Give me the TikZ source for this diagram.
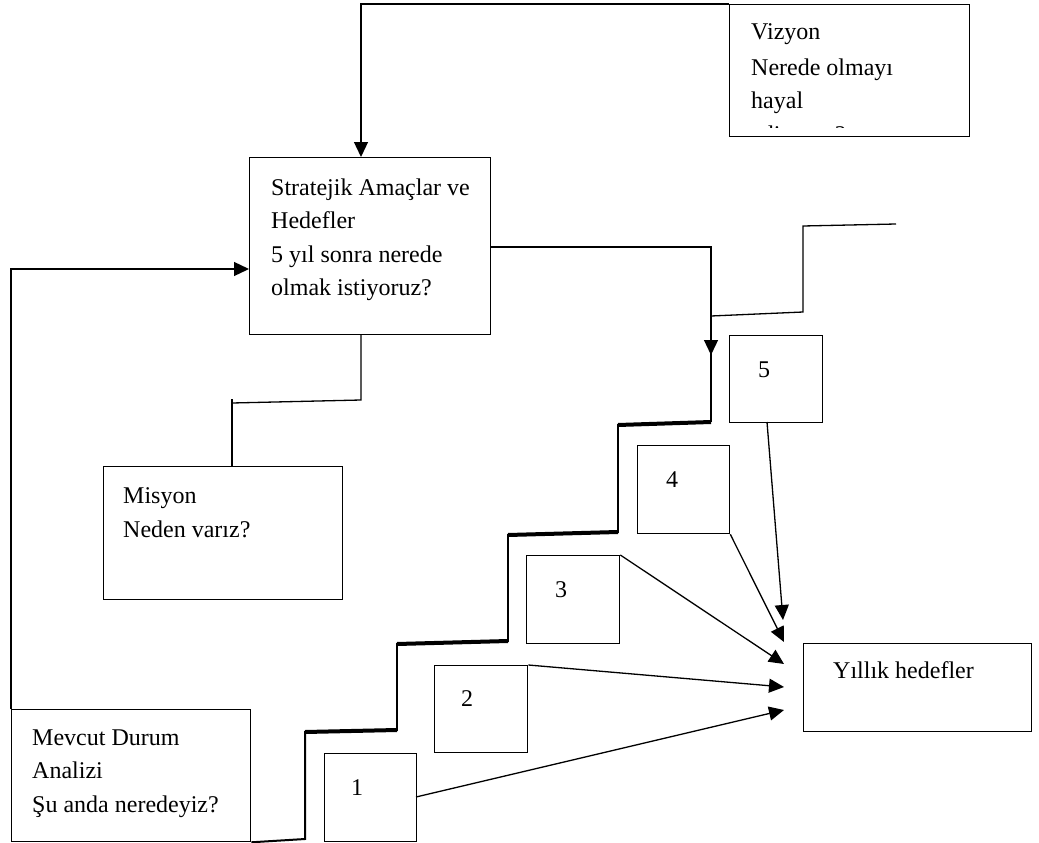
\documentclass[tikz,border=0pt]{standalone}
\usepackage{fontspec}
\setmainfont{Liberation Serif}
\usetikzlibrary{arrows.meta}
\begin{document}
\begin{tikzpicture}[x=1pt,y=-1pt,
  box/.style={draw, line width=1.3pt, rectangle, inner sep=0pt, anchor=north west},
  txt/.style={inner sep=0pt, anchor=base west, font=\fontsize{24}{33.5}\selectfont},
  link/.style={line width=1.3pt},
  arr/.style={line width=1.3pt, -{Triangle[length=15pt,width=14pt]}},
  stairh/.style={line width=4pt},
  stairv/.style={line width=2pt}]
\useasboundingbox (0,0) rectangle (1039,843);

% boxes
\node[box, minimum width=240pt, minimum height=132pt] (viz) at (729,4) {};
\node[box, minimum width=241pt, minimum height=177pt] (str) at (249,157) {};
\node[box, minimum width=239pt, minimum height=133pt] (mis) at (103,466) {};
\node[box, minimum width=239pt, minimum height=132pt] (mev) at (11,709) {};
\node[box, minimum width=228pt, minimum height=88pt] (yil) at (803,643) {};
\node[box, minimum width=92pt, minimum height=88pt] (b1) at (324,753) {};
\node[box, minimum width=93pt, minimum height=87pt] (b2) at (434,665) {};
\node[box, minimum width=93pt, minimum height=88pt] (b3) at (526,555) {};
\node[box, minimum width=92pt, minimum height=88pt] (b4) at (637,445) {};
\node[box, minimum width=93pt, minimum height=87pt] (b5) at (729,335) {};

% texts
\node[txt] (vizA) at (751,40) {Vizyon};
\node[txt] (vizB) at (751,75) {Nerede olmayı};
\node[txt] (vizC) at (751,108) {hayal};
\begin{scope}
  \clip (729,4) rectangle (969,127);
  \node[txt] (vizD) at (751,142) {ediyoruz?};
\end{scope}
\node[txt] (strA) at (271,195) {Stratejik Amaçlar ve};
\node[txt] (strB) at (271,228) {Hedefler};
\node[txt] (strC) at (271,262) {5 yıl sonra nerede};
\node[txt] (strD) at (271,295) {olmak istiyoruz?};
\node[txt] (misA) at (123,503) {Misyon};
\node[txt] (misB) at (123,537) {Neden varız?};
\node[txt] (mevA) at (32,745) {Mevcut Durum};
\node[txt] (mevB) at (32,778) {Analizi};
\node[txt] (mevC) at (32,812) {Şu anda neredeyiz?};
\node[txt] (yilA) at (833,678) {Yıllık hedefler};
\node[txt] (n1) at (351,795) {1};
\node[txt] (n2) at (461,706) {2};
\node[txt] (n3) at (555,597) {3};
\node[txt] (n4) at (666,487) {4};
\node[txt] (n5) at (758,377) {5};

% connectors between the big boxes
\draw[arr] (viz.north west) -- (361,4) -- (361,157);
\draw[arr] (mev.north west) -- (11,269) -- (249,269);
\draw[link] (361,334) -- (361,400) -- (232,403);
\draw[link] (232,399) -- (232,466);
\draw[arr] (490,247) -- (711,247) -- (711,355);
\draw[stairv] (711,350) -- (711,422);
\draw[link] (711,316) -- (803,312) -- (803,226) -- (896,224);

% staircase
\draw[stairv] (mev.south east) -- (305,839) -- (305,731);
\draw[stairh] (305,732) -- (397,730);
\draw[stairv] (397,731) -- (397,643);
\draw[stairh] (397,644) -- (508,641);
\draw[stairv] (508,642) -- (508,534);
\draw[stairh] (508,535) -- (618,532);
\draw[stairv] (618,533) -- (618,424);
\draw[stairh] (618,425) -- (711,422);

% yearly targets
\coordinate (t1) at (784,710);
\coordinate (t2) at (784,687);
\coordinate (t3) at (784,664);
\coordinate (t4) at (784,642);
\coordinate (t5) at (783,620);
\draw[arr] (416,797) -- (t1);
\draw[arr] (b2.north east) -- (t2);
\draw[arr] (b3.north east) -- (t3);
\draw[arr] (b4.south east) -- (t4);
\draw[arr] (767,422) -- (t5);
\end{tikzpicture}
\end{document}
